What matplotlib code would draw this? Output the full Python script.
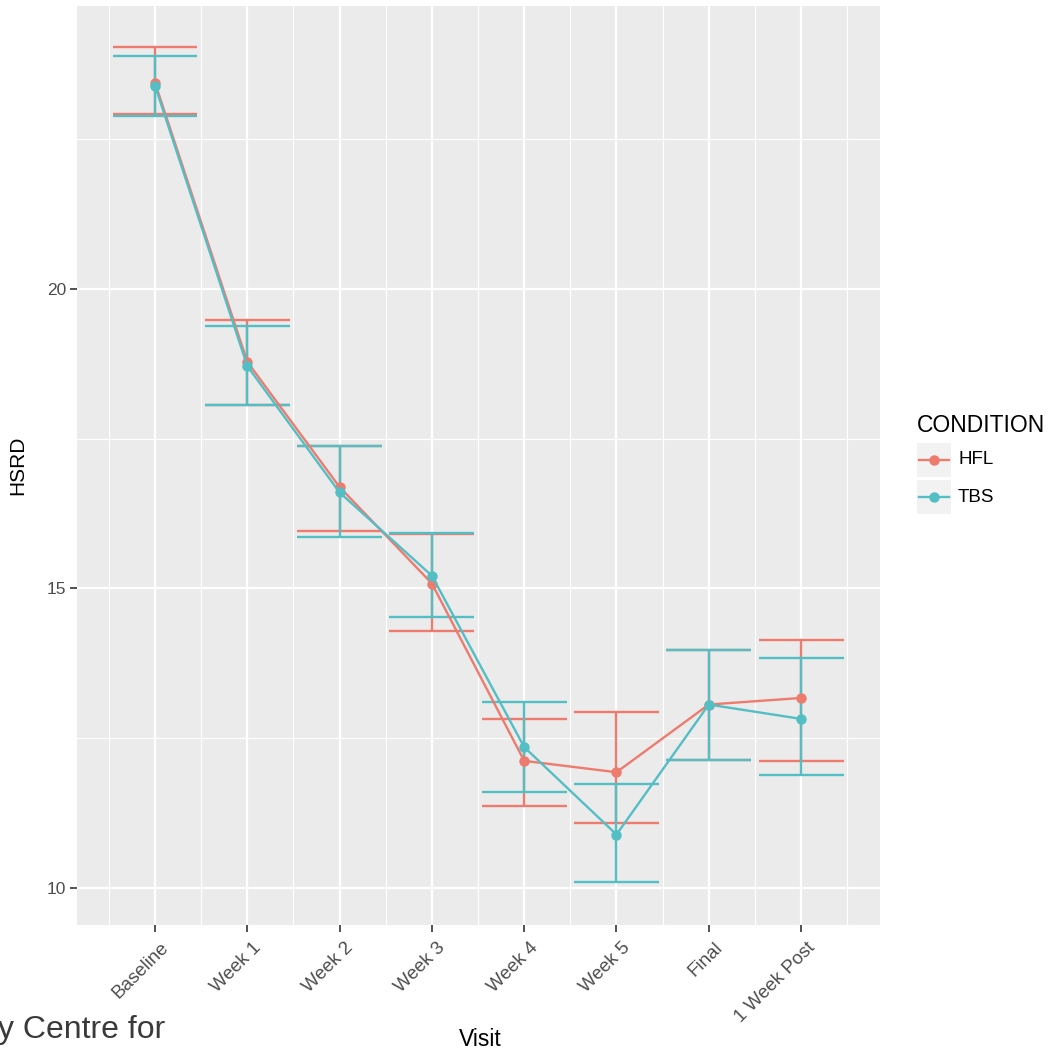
import matplotlib
matplotlib.use("Agg")
import matplotlib.pyplot as plt
from matplotlib.patches import Rectangle
from matplotlib.lines import Line2D
from matplotlib.transforms import ScaledTranslation

plt.rcParams["font.family"] = ["Liberation Sans", "DejaVu Sans"]

visits = ["Baseline", "Week 1", "Week 2", "Week 3", "Week 4", "Week 5", "Final", "1 Week Post"]

hfl_mean = [23.44, 18.78, 16.69, 15.08, 12.12, 11.93, 13.06, 13.17]
hfl_low = [22.92, 18.06, 15.96, 14.29, 11.37, 11.09, 12.13, 12.12]
hfl_high = [24.03, 19.48, 17.38, 15.91, 12.82, 12.94, 13.97, 14.13]

tbs_mean = [23.39, 18.71, 16.60, 15.21, 12.35, 10.89, 13.06, 12.82]
tbs_low = [22.88, 18.06, 15.85, 14.52, 11.60, 10.10, 12.13, 11.89]
tbs_high = [23.88, 19.38, 17.38, 15.92, 13.11, 11.73, 13.97, 13.84]

series = [("HFL", "#ED7B6E", hfl_mean, hfl_low, hfl_high),
          ("TBS", "#54BEC5", tbs_mean, tbs_low, tbs_high)]

W, H = 1048, 1051
fig = plt.figure(figsize=(W / 100, H / 100), dpi=100)
# panel in pixel coords: left 77, right 880, top 6, bottom 925
ax = fig.add_axes([77 / W, 1 - 925 / H, (880 - 77) / W, (925 - 6) / H])
ax.set_facecolor("#EBEBEB")
for s in ax.spines.values():
    s.set_visible(False)

x = list(range(1, len(visits) + 1))
ax.set_xlim(0.155, 8.855)
ax.set_ylim(9.38, 24.72)

# grid
for v in [10, 15, 20]:
    ax.axhline(v, color="white", lw=1.6, zorder=0)
for v in [12.5, 17.5, 22.5]:
    ax.axhline(v, color="white", lw=0.8, zorder=0)
for v in x:
    ax.axvline(v, color="white", lw=1.6, zorder=0)
for i in range(len(visits) + 1):
    ax.axvline(i + 0.5, color="white", lw=0.8, zorder=0)

for name, col, m, lo, hi in series:
    ax.vlines(x, lo, hi, color=col, lw=1.7, zorder=2)
    ax.hlines(lo, [xi - 0.46 for xi in x], [xi + 0.46 for xi in x], color=col, lw=1.7, zorder=2)
    ax.hlines(hi, [xi - 0.46 for xi in x], [xi + 0.46 for xi in x], color=col, lw=1.7, zorder=2)
    ax.plot(x, m, color=col, lw=1.7, marker="o", ms=6.5, zorder=3)

ax.set_yticks([10, 15, 20])
ax.set_yticklabels(["10", "15", "20"])
ax.set_xticks(x)
ax.set_xticklabels(visits, rotation=45, ha="right", va="top", rotation_mode="anchor")
ax.tick_params(axis="both", length=5, width=1.2, color="#333333", labelcolor="#4D4D4D",
               labelsize=12.5, pad=3)
ax.tick_params(axis="x", labelsize=13.5, pad=5)
for lab in ax.get_xticklabels():
    lab.set_transform(lab.get_transform() + ScaledTranslation(5 / 100, 0, fig.dpi_scale_trans))

ax.set_ylabel("HSRD", fontsize=15, labelpad=14)
fig.text(480 / W, 1 - 1040 / H, "Visit", fontsize=16.5, ha="center", va="center")

# watermark fragment at bottom-left
fig.text(-2 / W, 1 - 1030 / H, "y Centre for", fontsize=23, color="#3a3a3a", ha="left", va="center")

# legend
fig.text(917 / W, 1 - 425 / H, "CONDITION", fontsize=16.5, ha="left", va="center")
for k, (name, col, *_r) in enumerate(series):
    top = 443 + k * 37
    fig.patches.append(Rectangle((917 / W, 1 - (top + 34) / H), 34 / W, 34 / H,
                                 transform=fig.transFigure, facecolor="#F2F2F2",
                                 edgecolor="none"))
    fig.lines.append(Line2D([919 / W, 949 / W], [1 - (top + 17) / H] * 2,
                            transform=fig.transFigure, color=col, lw=1.7))
    fig.lines.append(Line2D([934 / W], [1 - (top + 17) / H], transform=fig.transFigure,
                            color=col, marker="o", ms=6.5, lw=0))
    fig.text(958 / W, 1 - (top + 17) / H, name, fontsize=13.5, ha="left", va="center")

fig.savefig("out.png", dpi=100)
